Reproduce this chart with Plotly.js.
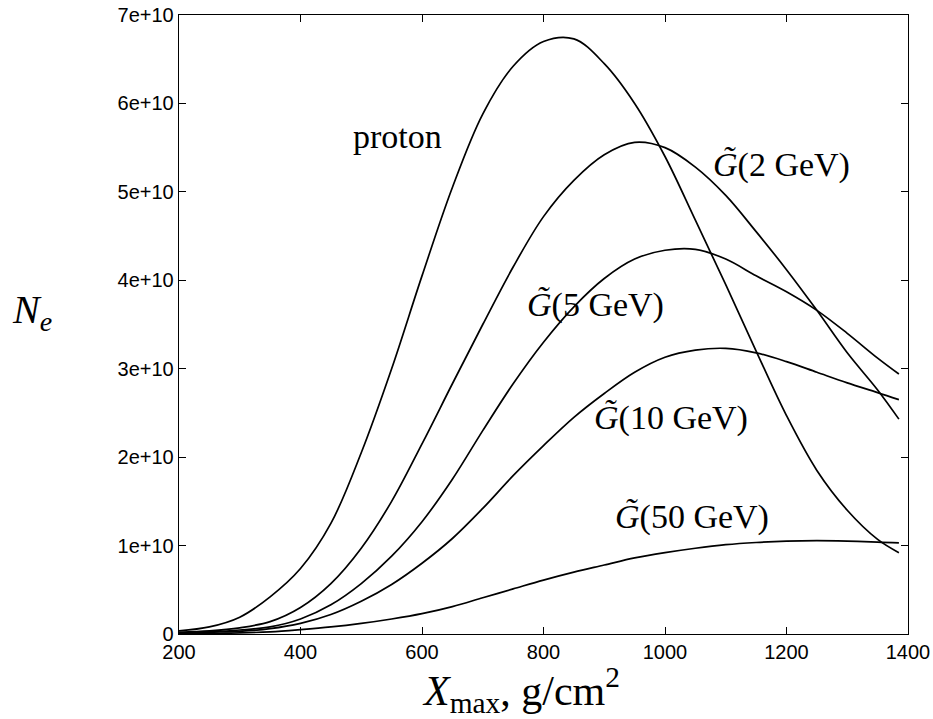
<!DOCTYPE html>
<html>
<head>
<meta charset="utf-8">
<script src="https://cdn.plot.ly/plotly-3.0.1.min.js"></script>
<style>html,body{margin:0;padding:0;background:#fff;}#chart{width:933px;height:719px;}</style>
</head>
<body>
<div id="chart"></div>
<script>
// Data (X_max in g/cm^2, N_e)
const xGrid = [200,250,300,350,400,450,500,550,600,650,700,750,800,850,900,950,1000,1050,1100,1150,1200,1250,1300,1350,1385];

const yProton = [0.035e10,0.08e10,0.19e10,0.42e10,0.74e10,1.25e10,2.05e10,3.0e10,4.05e10,5.05e10,5.88e10,6.42e10,6.7e10,6.73e10,6.45e10,6.0e10,5.4e10,4.68e10,3.95e10,3.2e10,2.47e10,1.85e10,1.4e10,1.07e10,0.92e10];
const yG2     = [0.02e10,0.035e10,0.07e10,0.14e10,0.3e10,0.57e10,0.97e10,1.5e10,2.15e10,2.83e10,3.5e10,4.15e10,4.72e10,5.13e10,5.42e10,5.56e10,5.5e10,5.28e10,4.96e10,4.55e10,4.12e10,3.66e10,3.18e10,2.76e10,2.43e10];
const yG5     = [0.015e10,0.025e10,0.045e10,0.08e10,0.17e10,0.33e10,0.57e10,0.88e10,1.27e10,1.75e10,2.3e10,2.83e10,3.3e10,3.7e10,4.02e10,4.24e10,4.34e10,4.35e10,4.24e10,4.05e10,3.87e10,3.66e10,3.4e10,3.12e10,2.94e10];
const yG10    = [0.01e10,0.02e10,0.03e10,0.06e10,0.12e10,0.22e10,0.37e10,0.56e10,0.8e10,1.08e10,1.42e10,1.79e10,2.13e10,2.45e10,2.72e10,2.96e10,3.13e10,3.21e10,3.23e10,3.18e10,3.08e10,2.96e10,2.84e10,2.73e10,2.65e10];
const yG50    = [0.003e10,0.006e10,0.012e10,0.025e10,0.05e10,0.08e10,0.12e10,0.17e10,0.23e10,0.31e10,0.41e10,0.51e10,0.61e10,0.7e10,0.78e10,0.86e10,0.92e10,0.97e10,1.01e10,1.035e10,1.05e10,1.055e10,1.05e10,1.04e10,1.03e10];

const curveLabels = ["proton", "<i>G̃</i>(2 GeV)", "<i>G̃</i>(5 GeV)", "<i>G̃</i>(10 GeV)", "<i>G̃</i>(50 GeV)"];
const labelX = [560, 1191, 885, 1010, 1044];
const labelY = [5.63e10, 5.3e10, 3.72e10, 2.44e10, 1.32e10];

const series = [yProton, yG2, yG5, yG10, yG50];
const traces = series.map(ys => ({
  x: xGrid, y: ys, type: 'scatter', mode: 'lines',
  line: {color: '#000', width: 1.7, shape: 'spline', smoothing: 1},
  hoverinfo: 'skip', showlegend: false
}));

const serif = 'Liberation Serif, Times New Roman, serif';
const annotations = curveLabels.map((t, i) => ({
  x: labelX[i], y: labelY[i], xref: 'x', yref: 'y', text: t, showarrow: false,
  font: {family: serif, size: 34, color: '#000'}, xanchor: 'center', yanchor: 'middle'
}));
annotations.push({
  xref: 'paper', yref: 'paper', x: 0.469, y: -0.09, text: '<i>X</i><sub>max</sub>, g/cm<sup>2</sup>',
  showarrow: false, font: {family: serif, size: 42, color: '#000'}, xanchor: 'center', yanchor: 'middle'
});
annotations.push({
  xref: 'paper', yref: 'paper', x: -0.2016, y: 0.52, text: '<i>N</i><sub><i>e</i></sub>',
  showarrow: false, font: {family: serif, size: 40, color: '#000'}, xanchor: 'center', yanchor: 'middle'
});

const axisCommon = {
  showline: true, linecolor: '#000', linewidth: 1.3, mirror: 'ticks',
  ticks: 'inside', ticklen: 7, tickwidth: 1, tickcolor: '#000',
  showgrid: false, zeroline: false,
  tickfont: {family: 'Liberation Sans, Arial, sans-serif', size: 20, color: '#000'}
};

const layout = {
  width: 933, height: 719,
  margin: {l: 179, r: 25, t: 15, b: 85},
  paper_bgcolor: '#fff', plot_bgcolor: '#fff',
  xaxis: Object.assign({}, axisCommon, {range: [200, 1400], dtick: 200, tick0: 200}),
  yaxis: Object.assign({}, axisCommon, {range: [0, 7e10], dtick: 1e10, tick0: 0, exponentformat: 'e', showexponent: 'all'}),
  annotations: annotations
};

Plotly.newPlot('chart', traces, layout, {displayModeBar: false, staticPlot: true});
</script>
</body>
</html>
